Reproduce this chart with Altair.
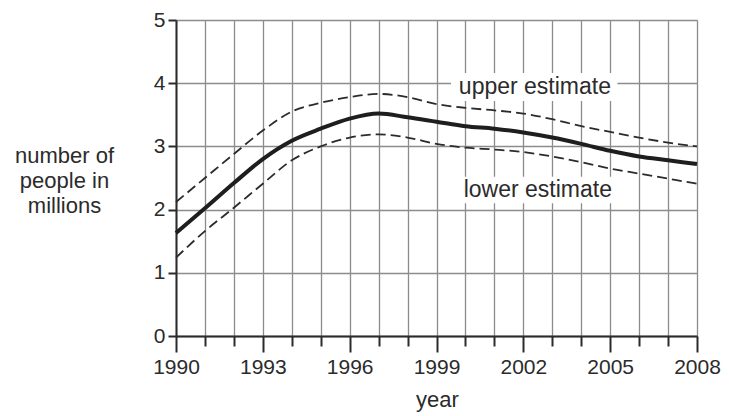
import altair as alt
import pandas as pd

years = list(range(1990, 2009))
central = [1.63, 2.02, 2.42, 2.80, 3.09, 3.28, 3.44, 3.52, 3.46, 3.39, 3.32, 3.28, 3.22, 3.14, 3.04, 2.93, 2.84, 2.78, 2.72]
upper = [2.12, 2.50, 2.88, 3.25, 3.55, 3.69, 3.78, 3.83, 3.78, 3.67, 3.61, 3.57, 3.52, 3.43, 3.32, 3.23, 3.14, 3.06, 3.00]
lower = [1.24, 1.66, 2.03, 2.41, 2.78, 3.00, 3.14, 3.19, 3.14, 3.04, 2.98, 2.95, 2.91, 2.84, 2.75, 2.65, 2.57, 2.49, 2.41]

label_text = ["upper estimate", "lower estimate"]
label_year = [2002.4, 2002.5]
label_value = [3.94, 2.31]
box_x1 = [1999.5, 1999.85]
box_x2 = [2005.25, 2005.2]
box_y1 = [3.72, 2.10]
box_y2 = [4.16, 2.52]

FONT = "Liberation Sans"
INK = "#2b2b2b"
GRID = "#8c8c8c"

df = pd.DataFrame({"year": years, "central": central, "upper": upper, "lower": lower})
labels = pd.DataFrame({"text": label_text, "year": label_year, "value": label_value,
                       "x1": box_x1, "x2": box_x2, "y1": box_y1, "y2": box_y2})

xscale = alt.Scale(domain=[1990, 2008], nice=False, zero=False)
yscale = alt.Scale(domain=[0, 5], nice=False)

x_axis = alt.Axis(
    values=years, format="d",
    labelExpr="(datum.value - 1990) % 3 === 0 ? datum.label : ''",
    grid=True, gridColor=GRID, gridWidth=1.3, gridOpacity=1,
    domainColor=INK, domainWidth=2, tickColor=INK, tickWidth=2,
    tickSize={"condition": {"test": "(datum.value - 1990) % 3 === 0", "value": 16}, "value": 10},
    labelFont=FONT, labelFontSize=21, labelColor=INK, labelPadding=4,
    labelFlush=False, labelOverlap=False,
    title="year", titleFont=FONT, titleFontSize=22, titleFontWeight="normal", titleColor=INK,
    titleX=261, titleY=63, titleAnchor=None, titleAlign="center", titleBaseline="middle",
)
y_axis = alt.Axis(
    values=[0, 1, 2, 3, 4, 5], format="d",
    grid=True, gridColor=GRID, gridWidth=1.3, gridOpacity=1,
    domainColor=INK, domainWidth=2, tickColor=INK, tickWidth=2, tickSize=8,
    labelFont=FONT, labelFontSize=21, labelColor=INK, labelPadding=3,
    title=["number of", "people in", "millions"], titleFont=FONT, titleFontSize=22,
    titleFontWeight="normal", titleColor=INK, titleAngle=0, titleAlign="center",
    titleBaseline="middle", titleX=-112, titleY=135, titleLineHeight=25,
)


def X(field):
    return alt.X(field, scale=xscale, axis=x_axis)


def Y(field):
    return alt.Y(field, scale=yscale, axis=y_axis)


base = alt.Chart(df)

boxes = alt.Chart(labels).mark_rect(fill="white", stroke=None).encode(
    x=X("x1:Q"), x2="x2:Q", y=Y("y1:Q"), y2="y2:Q",
)

up_line = base.mark_line(color=INK, strokeWidth=1.8, strokeDash=[10, 5], interpolate="monotone").encode(
    x=X("year:Q"), y=Y("upper:Q"))
low_line = base.mark_line(color=INK, strokeWidth=1.8, strokeDash=[10, 5], interpolate="monotone").encode(
    x=X("year:Q"), y=Y("lower:Q"))
mid_line = base.mark_line(color="#1e1e1e", strokeWidth=4, interpolate="monotone").encode(
    x=X("year:Q"), y=Y("central:Q"))

texts = alt.Chart(labels).mark_text(font=FONT, fontSize=23, color=INK, align="center", baseline="middle").encode(
    x=X("year:Q"), y=Y("value:Q"), text="text:N")

chart = alt.layer(boxes, up_line, low_line, mid_line, texts).properties(
    width=521, height=316,
    autosize=alt.AutoSizeParams(type="none"),
    padding={"left": 168, "top": 12, "right": 24, "bottom": 80},
).configure_view(stroke=None).configure(background="white")

chart.save("out.html", embed_options={"renderer": "svg", "actions": False})
